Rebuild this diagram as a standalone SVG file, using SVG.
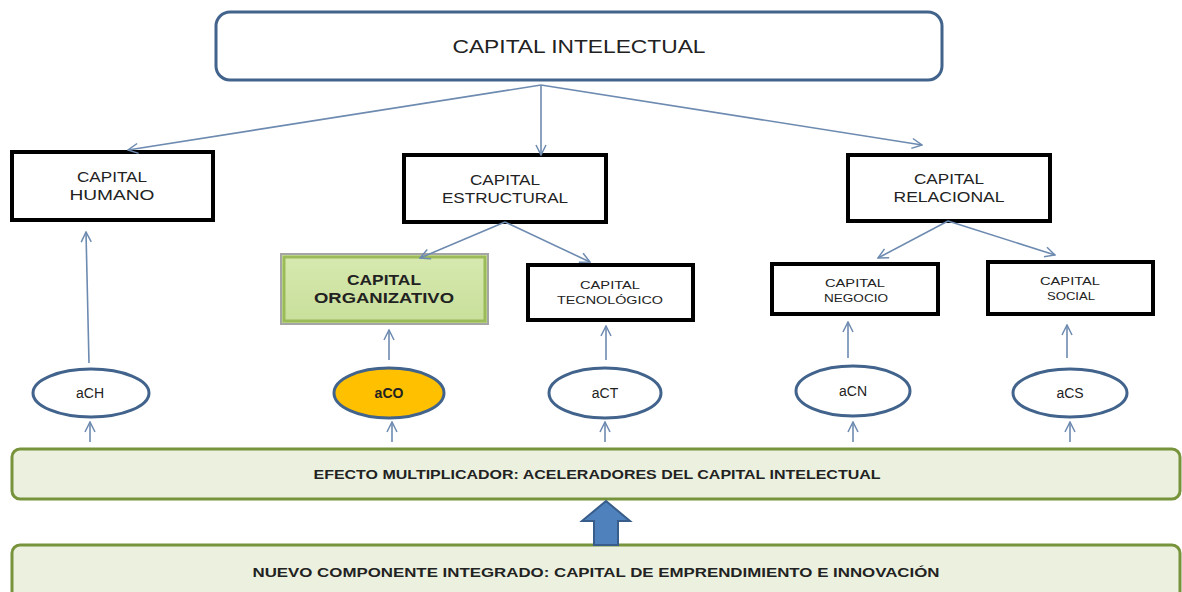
<svg xmlns="http://www.w3.org/2000/svg" width="1182" height="592" viewBox="0 0 1182 592">
<style>
.t{font-family:"Liberation Sans",Arial,sans-serif;fill:#222;text-anchor:middle}
.box{fill:#fff;stroke:#000;stroke-width:4}
.ell{fill:#fff;stroke:#41638c;stroke-width:3}
.c{stroke:#6d8ab0;stroke-width:1.6;fill:none;marker-end:url(#a)}
.bar{fill:#ebf1de;stroke:#77933c;stroke-width:3}
</style>
<defs>
<marker id="a" viewBox="0 0 12 12" refX="11" refY="6" markerWidth="12" markerHeight="12" markerUnits="userSpaceOnUse" orient="auto">
<path d="M1,1 L11,6 L1,11" fill="none" stroke="#6d8ab0" stroke-width="1.5"/>
</marker>
<linearGradient id="g" x1="0" y1="0" x2="0" y2="1">
<stop offset="0" stop-color="#d7e9b0"/><stop offset="1" stop-color="#c8df9a"/>
</linearGradient>
</defs>
<g id="capital-intelectual">
<rect x="216" y="12" width="726" height="68" rx="14" fill="#fff" stroke="#41638c" stroke-width="3"/>
<text class="t" x="579" y="53" font-size="19" textLength="253" lengthAdjust="spacingAndGlyphs">CAPITAL INTELECTUAL</text>
</g>
<g id="capital-humano">
<rect class="box" x="12" y="152" width="201" height="68"/>
<text class="t" x="112" y="182" font-size="14" textLength="70" lengthAdjust="spacingAndGlyphs">CAPITAL</text>
<text class="t" x="112" y="200" font-size="14" textLength="85" lengthAdjust="spacingAndGlyphs">HUMANO</text>
</g>
<g id="capital-estructural">
<rect class="box" x="404" y="155" width="202" height="67"/>
<text class="t" x="505" y="185" font-size="14" textLength="70" lengthAdjust="spacingAndGlyphs">CAPITAL</text>
<text class="t" x="505" y="203" font-size="14" textLength="126" lengthAdjust="spacingAndGlyphs">ESTRUCTURAL</text>
</g>
<g id="capital-relacional">
<rect class="box" x="848" y="155" width="202" height="66"/>
<text class="t" x="949" y="184" font-size="14" textLength="70" lengthAdjust="spacingAndGlyphs">CAPITAL</text>
<text class="t" x="949" y="202" font-size="14" textLength="111" lengthAdjust="spacingAndGlyphs">RELACIONAL</text>
</g>
<g id="capital-organizativo">
<rect x="281" y="254" width="207" height="70" fill="url(#g)" stroke="#a5a5a5" stroke-width="2"/>
<rect x="284" y="257" width="201" height="64" fill="none" stroke="#9bbb59" stroke-width="3"/>
<text class="t" x="384" y="285" font-size="14" font-weight="bold" fill="#111" textLength="74" lengthAdjust="spacingAndGlyphs">CAPITAL</text>
<text class="t" x="384" y="303" font-size="14" font-weight="bold" fill="#111" textLength="140" lengthAdjust="spacingAndGlyphs">ORGANIZATIVO</text>
</g>
<g id="capital-tecnologico">
<rect class="box" x="528" y="265" width="165" height="55"/>
<text class="t" x="610" y="289" font-size="11" textLength="60" lengthAdjust="spacingAndGlyphs">CAPITAL</text>
<text class="t" x="610" y="304" font-size="11" textLength="106" lengthAdjust="spacingAndGlyphs">TECNOLÓGICO</text>
</g>
<g id="capital-negocio">
<rect class="box" x="772" y="264" width="166" height="50"/>
<text class="t" x="855" y="287" font-size="11" textLength="60" lengthAdjust="spacingAndGlyphs">CAPITAL</text>
<text class="t" x="856" y="302" font-size="11" textLength="64" lengthAdjust="spacingAndGlyphs">NEGOCIO</text>
</g>
<g id="capital-social">
<rect class="box" x="988" y="262" width="165" height="52"/>
<text class="t" x="1070" y="285" font-size="11" textLength="60" lengthAdjust="spacingAndGlyphs">CAPITAL</text>
<text class="t" x="1071" y="300" font-size="11" textLength="48" lengthAdjust="spacingAndGlyphs">SOCIAL</text>
</g>
<g id="aCH"><ellipse class="ell" cx="91" cy="393" rx="58" ry="24"/><text class="t" x="90" y="398" font-size="14">aCH</text></g>
<g id="aCO"><ellipse class="ell" cx="389" cy="393" rx="55" ry="25" style="fill:#ffc000"/><text class="t" x="389" y="398" font-size="14" font-weight="bold" fill="#111">aCO</text></g>
<g id="aCT"><ellipse class="ell" cx="605" cy="393" rx="56" ry="25"/><text class="t" x="605" y="398" font-size="14">aCT</text></g>
<g id="aCN"><ellipse class="ell" cx="853" cy="391" rx="57" ry="25"/><text class="t" x="853" y="396" font-size="14">aCN</text></g>
<g id="aCS"><ellipse class="ell" cx="1070" cy="393" rx="57" ry="24"/><text class="t" x="1070" y="398" font-size="14">aCS</text></g>
<g id="efecto-multiplicador">
<rect class="bar" x="12" y="449" width="1168" height="50" rx="8"/>
<text class="t" x="597" y="479" font-size="12.5" font-weight="bold" fill="#111" textLength="567" lengthAdjust="spacingAndGlyphs">EFECTO MULTIPLICADOR: ACELERADORES  DEL CAPITAL INTELECTUAL</text>
</g>
<g id="nuevo-componente">
<rect class="bar" x="12" y="545" width="1168" height="60" rx="8"/>
<text class="t" x="596" y="577" font-size="12.5" font-weight="bold" fill="#111" textLength="687" lengthAdjust="spacingAndGlyphs">NUEVO COMPONENTE INTEGRADO: CAPITAL DE EMPRENDIMIENTO E INNOVACIÓN</text>
</g>
<g id="connectors">
<line class="c" x1="541" y1="85" x2="128" y2="150"/>
<line class="c" x1="541" y1="85" x2="541" y2="155"/>
<line class="c" x1="541" y1="85" x2="922" y2="145"/>
<line class="c" x1="505" y1="222" x2="420" y2="258"/>
<line class="c" x1="505" y1="222" x2="590" y2="262"/>
<line class="c" x1="948" y1="221" x2="878" y2="258"/>
<line class="c" x1="948" y1="221" x2="1055" y2="255"/>
<line class="c" x1="89" y1="363" x2="86" y2="232"/>
<line class="c" x1="389" y1="360" x2="389" y2="330"/>
<line class="c" x1="606" y1="360" x2="606" y2="326"/>
<line class="c" x1="848" y1="358" x2="848" y2="322"/>
<line class="c" x1="1067" y1="358" x2="1067" y2="325"/>
<line class="c" x1="90" y1="442" x2="90" y2="422"/>
<line class="c" x1="392" y1="442" x2="392" y2="422"/>
<line class="c" x1="605" y1="442" x2="605" y2="422"/>
<line class="c" x1="853" y1="442" x2="853" y2="422"/>
<line class="c" x1="1070" y1="442" x2="1070" y2="422"/>
<path d="M606,501 L630,521 L618,521 L618,545 L594,545 L594,521 L582,521 Z" fill="#4f81bd" stroke="#385d8a" stroke-width="2"/>
</g>
</svg>
